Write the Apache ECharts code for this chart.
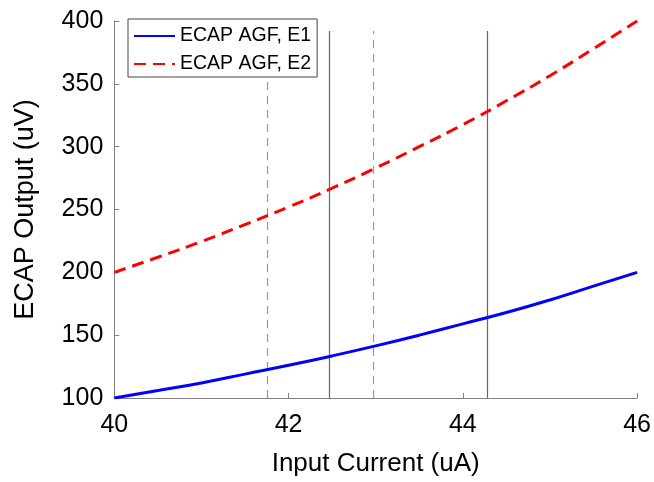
<!DOCTYPE html>
<html><head><meta charset="utf-8">
<script src="https://cdn.jsdelivr.net/npm/echarts@6/dist/echarts.min.js"></script>
<style>html,body{margin:0;padding:0;background:#fff}#c{width:654px;height:482px}</style>
</head><body><div id="c"></div>
<script>
const xValues = [40, 40.5, 41, 41.5, 42, 42.5, 43, 43.5, 44, 44.5, 45, 45.5, 46];
const e1Values = [100, 106, 112, 119, 126, 133.5, 141.5, 150, 159, 168, 178, 189, 200];
const e2Values = [200, 212, 224.5, 238, 252, 267, 283, 300, 317.5, 336.5, 356.5, 378, 400];
const seriesNames = ['ECAP AGF, E1', 'ECAP AGF, E2'];
const solidMarkers = [42.47, 44.28];
const dashedMarkers = [41.76, 42.97];
const markerTop = 392;
const markerBottom = 100;
const xTicks = [40, 42, 44, 46];
const yTicks = [100, 150, 200, 250, 300, 350, 400];

const FONT = 'Liberation Sans, Arial, sans-serif';
const e1Data = xValues.map((x, i) => [x, e1Values[i]]);
const e2Data = xValues.map((x, i) => [x, e2Values[i]]);
const vLines = (arr) => arr.map(v => [{coord: [v, markerBottom]}, {coord: [v, markerTop]}]);

const chart = echarts.init(document.getElementById('c'), null, {renderer: 'canvas'});
chart.setOption({
  animation: false,
  backgroundColor: '#ffffff',
  grid: {left: 114.3, right: 15.7, top: 21, bottom: 80.3, containLabel: false},
  legend: {
    orient: 'vertical', left: 128, top: 19, z: 10,
    data: seriesNames,
    backgroundColor: '#fff',
    borderColor: '#444', borderWidth: 1,
    padding: [7, 6, 3, 5],
    itemWidth: 41, itemHeight: 18, itemGap: 8,
    itemStyle: {opacity: 0},
    textStyle: {fontFamily: FONT, fontSize: 19.5, color: '#000'}
  },
  xAxis: {
    type: 'value', min: xTicks[0], max: xTicks[xTicks.length - 1], interval: 2,
    name: 'Input Current (uA)', nameLocation: 'middle', nameGap: 53,
    nameTextStyle: {fontFamily: FONT, fontSize: 26, color: '#000'},
    axisLine: {lineStyle: {color: '#808080', width: 1}},
    axisTick: {inside: true, length: 5, lineStyle: {color: '#808080'}},
    axisLabel: {fontFamily: FONT, fontSize: 25, color: '#000', margin: 15},
    splitLine: {show: false}
  },
  yAxis: {
    type: 'value', min: yTicks[0], max: yTicks[yTicks.length - 1], interval: 50,
    name: 'ECAP Output (uV)', nameLocation: 'middle', nameGap: 75,
    nameTextStyle: {fontFamily: FONT, fontSize: 27, color: '#000'},
    axisLine: {show: true, lineStyle: {color: '#808080', width: 1}},
    axisTick: {show: true, inside: true, length: 5, lineStyle: {color: '#808080'}},
    axisLabel: {fontFamily: FONT, fontSize: 25, color: '#000', margin: 11},
    splitLine: {show: false}
  },
  series: [
    {
      name: seriesNames[0], type: 'line', data: e1Data, smooth: true,
      showSymbol: false, symbol: 'none',
      lineStyle: {color: '#0000ff', width: 3},
      itemStyle: {color: '#0000ff'},
      z: 3,
      markLine: {
        silent: true, symbol: 'none', label: {show: false}, z: 1,
        lineStyle: {color: '#666666', width: 1.2, type: 'solid'},
        data: vLines(solidMarkers)
      }
    },
    {
      name: seriesNames[1], type: 'line', data: e2Data, smooth: true,
      showSymbol: false, symbol: 'none',
      lineStyle: {color: '#ff0000', width: 3, type: [12, 7]},
      itemStyle: {color: '#ff0000'},
      z: 3,
      markLine: {
        silent: true, symbol: 'none', label: {show: false}, z: 1,
        lineStyle: {color: '#999999', width: 1.2, type: [8, 6]},
        data: vLines(dashedMarkers)
      }
    }
  ]
});
</script></body></html>
